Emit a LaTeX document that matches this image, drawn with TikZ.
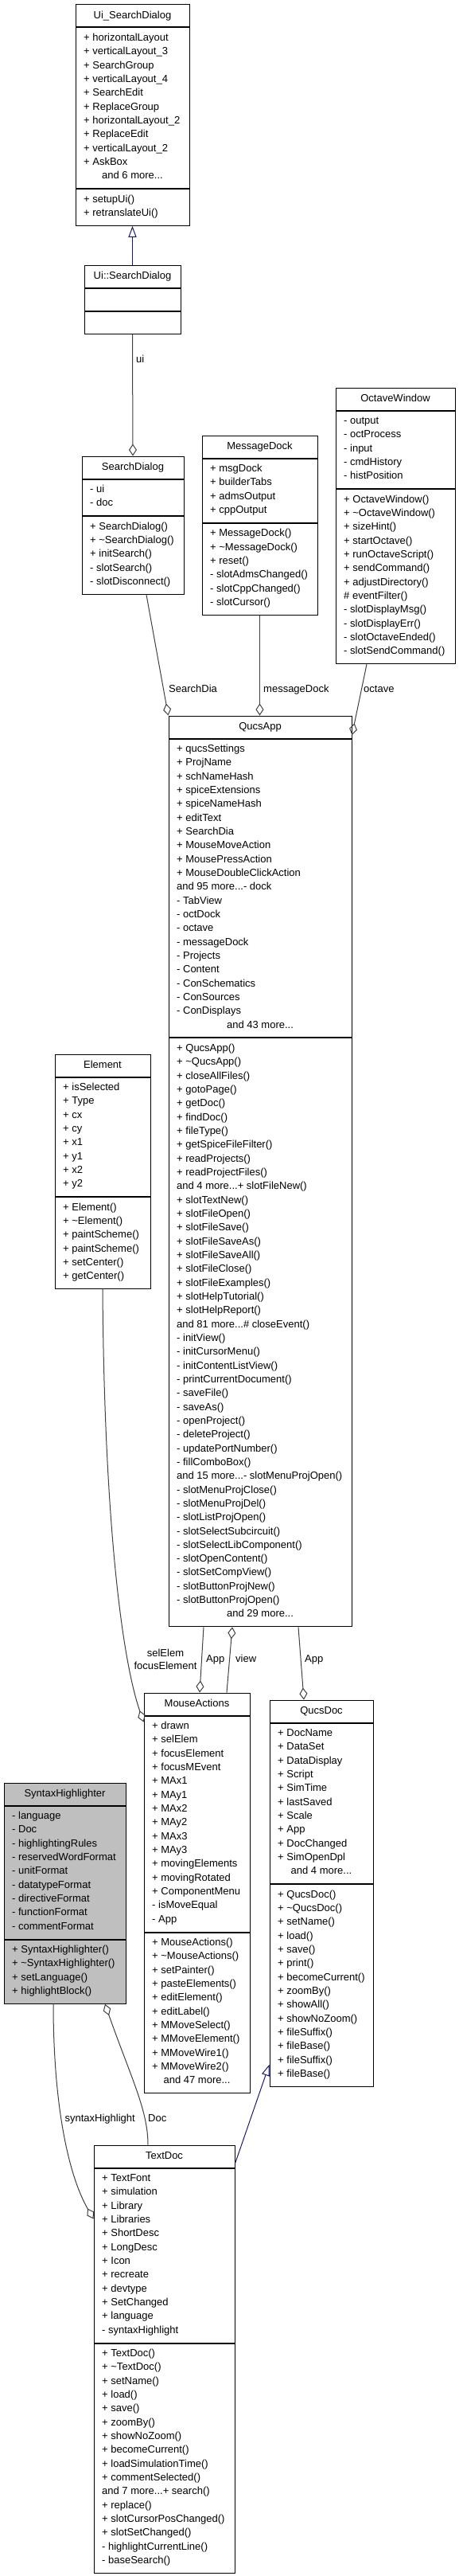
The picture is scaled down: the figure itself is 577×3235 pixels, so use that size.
\documentclass[tikz,border=0pt]{standalone}
\usepackage{fontspec}
\setmainfont{Liberation Sans}
\usepackage{xcolor}
\usetikzlibrary{arrows.meta,positioning,calc}
\definecolor{edgegray}{HTML}{404040}
\definecolor{navyline}{HTML}{191970}
\definecolor{focusgray}{HTML}{BFBFBF}
\newcommand{\etcdots}{...}
\tikzset{
  clstitle/.style={draw=black, fill=white, line width=1pt, inner sep=0pt, text height=9.5pt, text depth=2.8pt},
  clspart/.style={draw=black, fill=white, line width=1pt, inner sep=0pt},
  member/.style={anchor=base west, inner sep=0pt},
  lbl/.style={inner sep=0pt},
  aggr/.style={draw=edgegray, line width=1pt, -{Diamond[open, length=15pt, width=10pt]}},
  derived/.style={draw=navyline, line width=1pt, -{Triangle[open, length=14pt, width=10pt]}}
}
\begin{document}
\begin{tikzpicture}[x=1pt, y=-1pt]
			\tikzstyle{every node}=[font=\fontsize{13pt}{17.33pt}\selectfont]
			\useasboundingbox (0,0) rectangle (577,3235);
			\fill [white] (0,0) rectangle (577,3235);
			% Ui_SearchDialog
			\node [clstitle, minimum width=143, minimum height=28] (uisdT) at (166.5,20) {Ui\_SearchDialog};
			\node [clspart, minimum width=143, minimum height=201.6, below=0pt of uisdT] (uisdA) {};
			\node [clspart, minimum width=143, minimum height=45.7, below=0pt of uisdA] (uisdM) {};
			\foreach \t [count=\i] in {+ horizontalLayout, + verticalLayout\_3, + SearchGroup, + verticalLayout\_4, + SearchEdit, + ReplaceGroup, + horizontalLayout\_2, + ReplaceEdit, + verticalLayout\_2, + AskBox}
				\node [member] (uisdA\i) at ([shift={(10.5,{\i*17.33-0.3})}]uisdA.north west) {\t};
			\node [member, anchor=base] (uisdAmore) at ([shift={(0,{11*17.33-0.3})}]uisdA.north) {and 6 more...};
			\foreach \t [count=\i] in {+ setupUi(), + retranslateUi()}
				\node [member] (uisdM\i) at ([shift={(10.5,{\i*17.33-0.3})}]uisdM.north west) {\t};
			% Ui::SearchDialog
			\node [clstitle, minimum width=121, minimum height=28] (uisddT) at (166.5,347) {Ui::SearchDialog};
			\node [clspart, minimum width=121, minimum height=28, below=0pt of uisddT] (uisddA) {};
			\node [clspart, minimum width=121, minimum height=28, below=0pt of uisddA] (uisddM) {};
			% SearchDialog
			\node [clstitle, minimum width=128, minimum height=28] (sdT) at (167,587) {SearchDialog};
			\node [clspart, minimum width=128, minimum height=45.7, below=0pt of sdT] (sdA) {};
			\node [clspart, minimum width=128, minimum height=97.7, below=0pt of sdA] (sdM) {};
			\foreach \t [count=\i] in {- ui, - doc}
				\node [member] (sdA\i) at ([shift={(10.5,{\i*17.33-0.3})}]sdA.north west) {\t};
			\foreach \t [count=\i] in {+ SearchDialog(), + \textasciitilde SearchDialog(), + initSearch(), - slotSearch(), - slotDisconnect()}
				\node [member] (sdM\i) at ([shift={(10.5,{\i*17.33-0.3})}]sdM.north west) {\t};
			% MessageDock
			\node [clstitle, minimum width=145, minimum height=28] (mdT) at (326.5,561) {MessageDock};
			\node [clspart, minimum width=145, minimum height=80.3, below=0pt of mdT] (mdA) {};
			\node [clspart, minimum width=145, minimum height=115, below=0pt of mdA] (mdM) {};
			\foreach \t [count=\i] in {+ msgDock, + builderTabs, + admsOutput, + cppOutput}
				\node [member] (mdA\i) at ([shift={(10.5,{\i*17.33-0.3})}]mdA.north west) {\t};
			\foreach \t [count=\i] in {+ MessageDock(), + \textasciitilde MessageDock(), + reset(), - slotAdmsChanged(), - slotCppChanged(), - slotCursor()}
				\node [member] (mdM\i) at ([shift={(10.5,{\i*17.33-0.3})}]mdM.north west) {\t};
			% OctaveWindow
			\node [clstitle, minimum width=150, minimum height=28] (owT) at (497,501) {OctaveWindow};
			\node [clspart, minimum width=150, minimum height=97.7, below=0pt of owT] (owA) {};
			\node [clspart, minimum width=150, minimum height=219, below=0pt of owA] (owM) {};
			\foreach \t [count=\i] in {- output, - octProcess, - input, - cmdHistory, - histPosition}
				\node [member] (owA\i) at ([shift={(10.5,{\i*17.33-0.3})}]owA.north west) {\t};
			\foreach \t [count=\i] in {+ OctaveWindow(), + \textasciitilde OctaveWindow(), + sizeHint(), + startOctave(), + runOctaveScript(), + sendCommand(), + adjustDirectory(), \# eventFilter(), - slotDisplayMsg(), - slotDisplayErr(), - slotOctaveEnded(), - slotSendCommand()}
				\node [member] (owM\i) at ([shift={(10.5,{\i*17.33-0.3})}]owM.north west) {\t};
			% QucsApp
			\node [clstitle, minimum width=230, minimum height=28] (qaT) at (327,913) {QucsApp};
			\node [clspart, minimum width=230, minimum height=374.9, below=0pt of qaT] (qaA) {};
			\node [clspart, minimum width=230, minimum height=738.9, below=0pt of qaA] (qaM) {};
			\foreach \t [count=\i] in {+ qucsSettings, + ProjName, + schNameHash, + spiceExtensions, + spiceNameHash, + editText, + SearchDia, + MouseMoveAction, + MousePressAction, + MouseDoubleClickAction, and 95 more\etcdots- dock, - TabView, - octDock, - octave, - messageDock, - Projects, - Content, - ConSchematics, - ConSources, - ConDisplays}
				\node [member] (qaA\i) at ([shift={(10.5,{\i*17.33-0.3})}]qaA.north west) {\t};
			\node [member, anchor=base] (qaAmore) at ([shift={(0,{21*17.33-0.3})}]qaA.north) {and 43 more...};
			\foreach \t [count=\i] in {+ QucsApp(), + \textasciitilde QucsApp(), + closeAllFiles(), + gotoPage(), + getDoc(), + findDoc(), + fileType(), + getSpiceFileFilter(), + readProjects(), + readProjectFiles(), and 4 more\etcdots+ slotFileNew(), + slotTextNew(), + slotFileOpen(), + slotFileSave(), + slotFileSaveAs(), + slotFileSaveAll(), + slotFileClose(), + slotFileExamples(), + slotHelpTutorial(), + slotHelpReport(), and 81 more\etcdots\# closeEvent(), - initView(), - initCursorMenu(), - initContentListView(), - printCurrentDocument(), - saveFile(), - saveAs(), - openProject(), - deleteProject(), - updatePortNumber(), - fillComboBox(), and 15 more\etcdots- slotMenuProjOpen(), - slotMenuProjClose(), - slotMenuProjDel(), - slotListProjOpen(), - slotSelectSubcircuit(), - slotSelectLibComponent(), - slotOpenContent(), - slotSetCompView(), - slotButtonProjNew(), - slotButtonProjOpen()}
				\node [member] (qaM\i) at ([shift={(10.5,{\i*17.33-0.3})}]qaM.north west) {\t};
			\node [member, anchor=base] (qaMmore) at ([shift={(0,{42*17.33-0.3})}]qaM.north) {and 29 more...};
			% Element
			\node [clstitle, minimum width=120, minimum height=28] (elT) at (129,1338) {Element};
			\node [clspart, minimum width=120, minimum height=149.6, below=0pt of elT] (elA) {};
			\node [clspart, minimum width=120, minimum height=115, below=0pt of elA] (elM) {};
			\foreach \t [count=\i] in {+ isSelected, + Type, + cx, + cy, + x1, + y1, + x2, + y2}
				\node [member] (elA\i) at ([shift={(10.5,{\i*17.33-0.3})}]elA.north west) {\t};
			\foreach \t [count=\i] in {+ Element(), + \textasciitilde Element(), + paintScheme(), + paintScheme(), + setCenter(), + getCenter()}
				\node [member] (elM\i) at ([shift={(10.5,{\i*17.33-0.3})}]elM.north west) {\t};
			% MouseActions
			\node [clstitle, minimum width=133, minimum height=28] (maT) at (247.5,2140) {MouseActions};
			\node [clspart, minimum width=133, minimum height=271, below=0pt of maT] (maA) {};
			\node [clspart, minimum width=133, minimum height=201.6, below=0pt of maA] (maM) {};
			\foreach \t [count=\i] in {+ drawn, + selElem, + focusElement, + focusMEvent, + MAx1, + MAy1, + MAx2, + MAy2, + MAx3, + MAy3, + movingElements, + movingRotated, + ComponentMenu, - isMoveEqual, - App}
				\node [member] (maA\i) at ([shift={(10.5,{\i*17.33-0.3})}]maA.north west) {\t};
			\foreach \t [count=\i] in {+ MouseActions(), + \textasciitilde MouseActions(), + setPainter(), + pasteElements(), + editElement(), + editLabel(), + MMoveSelect(), + MMoveElement(), + MMoveWire1(), + MMoveWire2()}
				\node [member] (maM\i) at ([shift={(10.5,{\i*17.33-0.3})}]maM.north west) {\t};
			\node [member, anchor=base] (maMmore) at ([shift={(0,{11*17.33-0.3})}]maM.north) {and 47 more...};
			% QucsDoc
			\node [clstitle, minimum width=130, minimum height=28] (qdT) at (404,2149) {QucsDoc};
			\node [clspart, minimum width=130, minimum height=201.6, below=0pt of qdT] (qdA) {};
			\node [clspart, minimum width=130, minimum height=253.6, below=0pt of qdA] (qdM) {};
			\foreach \t [count=\i] in {+ DocName, + DataSet, + DataDisplay, + Script, + SimTime, + lastSaved, + Scale, + App, + DocChanged, + SimOpenDpl}
				\node [member] (qdA\i) at ([shift={(10.5,{\i*17.33-0.3})}]qdA.north west) {\t};
			\node [member, anchor=base] (qdAmore) at ([shift={(0,{11*17.33-0.3})}]qdA.north) {and 4 more...};
			\foreach \t [count=\i] in {+ QucsDoc(), + \textasciitilde QucsDoc(), + setName(), + load(), + save(), + print(), + becomeCurrent(), + zoomBy(), + showAll(), + showNoZoom(), + fileSuffix(), + fileBase(), + fileSuffix(), + fileBase()}
				\node [member] (qdM\i) at ([shift={(10.5,{\i*17.33-0.3})}]qdM.north west) {\t};
			% SyntaxHighlighter
			\node [clstitle, fill=focusgray, minimum width=153, minimum height=28] (shT) at (81.5,2253) {SyntaxHighlighter};
			\node [clspart, fill=focusgray, minimum width=153, minimum height=167, below=0pt of shT] (shA) {};
			\node [clspart, fill=focusgray, minimum width=153, minimum height=80.3, below=0pt of shA] (shM) {};
			\foreach \t [count=\i] in {- language, - Doc, - highlightingRules, - reservedWordFormat, - unitFormat, - datatypeFormat, - directiveFormat, - functionFormat, - commentFormat}
				\node [member] (shA\i) at ([shift={(10.5,{\i*17.33-0.3})}]shA.north west) {\t};
			\foreach \t [count=\i] in {+ SyntaxHighlighter(), + \textasciitilde SyntaxHighlighter(), + setLanguage(), + highlightBlock()}
				\node [member] (shM\i) at ([shift={(10.5,{\i*17.33-0.3})}]shM.north west) {\t};
			% TextDoc
			\node [clstitle, minimum width=177, minimum height=28] (tdT) at (206.5,2708) {TextDoc};
			\node [clspart, minimum width=177, minimum height=219, below=0pt of tdT] (tdA) {};
			\node [clspart, minimum width=177, minimum height=288.3, below=0pt of tdA] (tdM) {};
			\foreach \t [count=\i] in {+ TextFont, + simulation, + Library, + Libraries, + ShortDesc, + LongDesc, + Icon, + recreate, + devtype, + SetChanged, + language, - syntaxHighlight}
				\node [member] (tdA\i) at ([shift={(10.5,{\i*17.33-0.3})}]tdA.north west) {\t};
			\foreach \t [count=\i] in {+ TextDoc(), + \textasciitilde TextDoc(), + setName(), + load(), + save(), + zoomBy(), + showNoZoom(), + becomeCurrent(), + loadSimulationTime(), + commentSelected(), and 7 more\etcdots+ search(), + replace(), + slotCursorPosChanged(), + slotSetChanged(), - highlightCurrentLine(), - baseSearch()}
				\node [member] (tdM\i) at ([shift={(10.5,{\i*17.33-0.3})}]tdM.north west) {\t};
			% connectors
			\draw [derived] (uisddT.north) -- (uisdM.south);
			\draw [aggr] (uisddM.south) -- (sdT.north);
			\draw [aggr] ([shift={(17,0)}]sdM.south) -- (qaT.north west);
			\draw [aggr] (mdM.south) -- (mdM.south |- qaT.north);
			\draw [aggr] ([shift={(-36,0)}]owM.south) -- ([shift={(0,10)}]qaT.east);
			\draw [aggr] (elM.south) .. controls (131,1900) and (152,2080) .. ([shift={(0,8)}]maA.north west);
			\draw [aggr] ([shift={(-71,0)}]qaM.south) -- ([shift={(3.5,0)}]maT.north);
			\draw [aggr] ([shift={(37.5,0)}]maT.north) -- ([shift={(-35,0)}]qaM.south);
			\draw [aggr] ([shift={(48,0)}]qaM.south) -- ([shift={(-22,0)}]qdT.north);
			\draw [aggr] ([shift={(-14.5,0)}]shM.south) .. controls (67,2640) and (85,2730) .. ([shift={(0,64)}]tdA.north west);
			\draw [aggr] ([shift={(-20.5,0)}]tdT.north) .. controls (186,2650) and (165,2610) .. ([shift={(50.5,0)}]shM.south);
			\draw [derived] ([shift={(0,9)}]tdT.east) -- ([shift={(0,-28)}]qdM.south west);
			% connector labels
			\node [lbl, anchor=base west] (lui) at (171,455) {ui};
			\node [lbl, anchor=base west] (lsearch) at (212,869) {SearchDia};
			\node [lbl, anchor=base west] (lmsg) at (331,869) {messageDock};
			\node [lbl, anchor=base west] (loct) at (457,869) {octave};
			\node [lbl, anchor=base] (lsel) at (208,2080) {selElem};
			\node [lbl, anchor=base] (lfocus) at (208,2096) {focusElement};
			\node [lbl, anchor=base west] (lapp) at (259,2087) {App};
			\node [lbl, anchor=base west] (lview) at (296,2087) {view};
			\node [lbl, anchor=base west] (lappdoc) at (383,2087) {App};
			\node [lbl, anchor=base east] (lsyn) at (170,2664) {syntaxHighlight};
			\node [lbl, anchor=base west] (ldoc) at (186,2664) {Doc};
		\end{tikzpicture}
\end{document}
